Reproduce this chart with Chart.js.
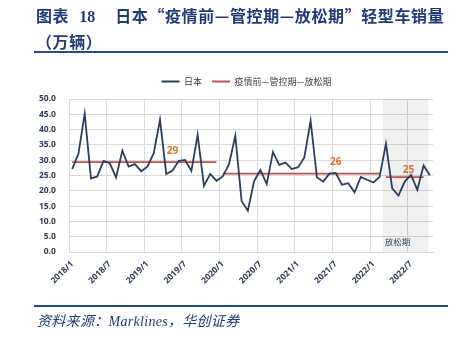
<!DOCTYPE html>
<html>
<head>
<meta charset="utf-8">
<script src="https://cdn.jsdelivr.net/npm/chart.js@4/dist/chart.umd.min.js"></script>
<style>
  html, body { margin: 0; padding: 0; background: #fff; }
  #wrap { position: relative; width: 468px; height: 339px; overflow: hidden; }
  #c { position: absolute; left: 0; top: 0; }
  .title {
    position: absolute; left: 36px; top: 3px; white-space: nowrap;
    font: bold 16px/24px "Noto Sans CJK SC", sans-serif; letter-spacing: 0.6px;
    color: #1f3c78;
  }
  .title .num { font-family: "Liberation Serif", serif; margin: 0 20px 0 10px; letter-spacing: 0; }
  .rule { position: absolute; left: 34px; width: 414px; height: 2px; background: #1f4e8c; }
  .source {
    position: absolute; left: 37px; top: 313px; white-space: nowrap;
    font: italic 14px/18px "Liberation Serif", "Noto Sans CJK SC", serif;
    letter-spacing: 0.3px;
    color: #1f3c78;
  }
</style>
</head>
<body>
<div id="wrap">
  <canvas id="c" width="468" height="339"></canvas>
  <div class="title">图表<span class="num">18</span>日本“疫情前—管控期—放松期”轻型车销量<br>（万辆）</div>
  <div class="rule" style="top:51px"></div>
  <div class="rule" style="top:305px"></div>
  <div class="source">资料来源：Marklines，华创证券</div>
</div>
<script>
// months 2018/1 .. 2022/10
const years = [2018, 2019, 2020, 2021, 2022];
const months = [];
years.forEach(y => {
  for (let m = 1; m <= 12; m++) {
    if (y === 2022 && m > 10) break;
    months.push(y + '/' + m);
  }
});

// 日本 light vehicle sales, 10k units
const sales = [
  27.1, 32.1, 45.2, 24.0, 24.7, 29.8, 29.0, 24.4, 33.1, 27.9, 28.7, 26.4,
  27.9, 32.3, 43.2, 25.5, 26.6, 29.8, 30.1, 26.5, 38.3, 21.6, 25.5, 23.3,
  24.7, 28.7, 38.0, 16.7, 13.5, 23.2, 26.8, 22.2, 32.7, 28.5, 29.2, 27.1,
  27.7, 30.9, 42.9, 24.4, 23.0, 25.6, 25.8, 22.0, 22.5, 19.5, 24.5, 23.6,
  22.7, 24.6, 35.4, 20.8, 18.4, 23.0, 25.2, 20.3, 28.3, 25.1
];

// period averages: 疫情前 / 管控期 / 放松期
const periodStart = [0, 24, 50];
const periodEnd = [23, 49, 56];
const periodAvg = [29.4, 25.6, 24.5];
const periodLabel = ['29', '26', '25'];

const navy = '#2b3f5c';
const red = '#c0504d';
const gridColor = '#d9d9d9';
const tickColor = '#2f3d55';

function avgSeries(p) {
  return months.map((m, i) => (i >= periodStart[p] && i <= periodEnd[p]) ? periodAvg[p] : null);
}

// shaded 放松期 band and average labels
const notesPlugin = {
  id: 'notes',
  beforeDatasetsDraw(chart) {
    const { ctx, chartArea, scales: { x, y } } = chart;
    const left = x.getPixelForValue(49.5);
    const right = x.getPixelForValue(56.75);
    ctx.save();
    ctx.fillStyle = 'rgba(0,0,0,0.06)';
    ctx.fillRect(left, chartArea.top, right - left, chartArea.bottom - chartArea.top);
    ctx.fillStyle = '#2e4466';
    ctx.font = '8.5px "Noto Sans CJK SC"';
    ctx.textBaseline = 'middle';
    ctx.fillText('放松期', left + 2, y.getPixelForValue(3.3));
    ctx.restore();
  },
  afterDatasetsDraw(chart) {
    const { ctx, scales: { x, y } } = chart;
    const spots = [[16, 33.0], [42, 29.5], [53.6, 26.8]];
    ctx.save();
    ctx.fillStyle = '#e0702a';
    ctx.font = 'bold 10px "Noto Sans"';
    ctx.textAlign = 'center';
    ctx.textBaseline = 'middle';
    spots.forEach((s, i) => {
      ctx.fillText(periodLabel[i], x.getPixelForValue(s[0]), y.getPixelForValue(s[1]));
    });
    ctx.restore();
  }
};

const avgLabel = '疫情前—管控期—放松期';

new Chart(document.getElementById('c'), {
  type: 'line',
  data: {
    labels: months,
    datasets: [
      { label: '日本', data: sales, borderColor: navy, backgroundColor: navy, borderWidth: 1.8, pointRadius: 0, tension: 0 },
      { label: avgLabel, data: avgSeries(0), borderColor: red, backgroundColor: red, borderWidth: 1.8, pointRadius: 0 },
      { label: avgLabel, data: avgSeries(1), borderColor: red, backgroundColor: red, borderWidth: 1.8, pointRadius: 0 },
      { label: avgLabel, data: avgSeries(2), borderColor: red, backgroundColor: red, borderWidth: 1.8, pointRadius: 0 }
    ]
  },
  options: {
    responsive: false,
    animation: false,
    devicePixelRatio: 1,
    layout: { padding: { top: 67, left: 60, right: 35, bottom: 47 } },
    plugins: {
      tooltip: { enabled: false },
      legend: {
        position: 'top',
        labels: {
          boxWidth: 18,
          boxHeight: 2,
          padding: 10,
          color: '#404040',
          font: { size: 9, family: '"Noto Sans CJK SC"' },
          generateLabels(chart) {
            return Chart.defaults.plugins.legend.labels.generateLabels(chart)
              .filter(l => l.datasetIndex < 2)
              .map(l => Object.assign(l, { lineWidth: 0 }));
          }
        }
      },
      subtitle: { display: true, text: '', weight: 500, padding: { top: 1, bottom: 1 }, font: { size: 1, lineHeight: 1 } }
    },
    scales: {
      x: {
        offset: true,
        grid: {
          offset: true,
          drawTicks: false,
          color: c => (c.index !== undefined && c.index % 6 === 0) ? gridColor : 'transparent'
        },
        border: { color: gridColor },
        ticks: {
          autoSkip: false,
          minRotation: 45,
          maxRotation: 45,
          padding: 7,
          color: tickColor,
          font: { size: 8.5, weight: 'bold', family: '"Noto Sans"' },
          callback: (v, i) => i % 6 === 0 ? months[i] : ''
        },
        afterFit: s => { s.height = 40; }
      },
      y: {
        min: 0,
        max: 50,
        grid: { color: gridColor, drawTicks: false },
        border: { color: gridColor },
        ticks: {
          stepSize: 5,
          mirror: true,
          crossAlign: 'far',
          padding: -30,
          color: tickColor,
          font: { size: 8.5, weight: 'bold', family: '"Noto Sans"' },
          callback: v => v.toFixed(1)
        },
        afterFit: s => { s.width = 9; }
      }
    }
  },
  plugins: [notesPlugin]
});
</script>
</body>
</html>
